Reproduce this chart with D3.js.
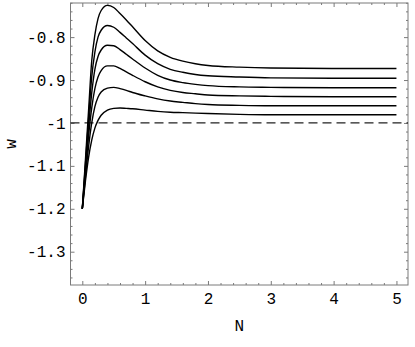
<!DOCTYPE html>
<html>
<head>
<meta charset="utf-8">
<script src="https://cdn.jsdelivr.net/npm/d3@7"></script>
<style>
  html, body { margin: 0; padding: 0; background: #fff; }
  svg { display: block; }
  text { font-family: "Liberation Mono", "DejaVu Sans Mono", monospace; fill: #000; }
</style>
</head>
<body>
<svg id="chart" width="415" height="347"></svg>
<script>
// ---- data ----
const nValues = [0, 0.05, 0.1, 0.15, 0.2, 0.25, 0.3, 0.4, 0.5, 0.6, 0.7, 0.8, 1.0, 1.2, 1.4, 1.6, 1.8, 2.0, 2.5, 3, 4, 5];
const curve1 = [-1.2, -1.085, -0.97, -0.855, -0.795, -0.757, -0.738, -0.726, -0.731, -0.745, -0.760, -0.776, -0.808, -0.832, -0.847, -0.856, -0.862, -0.866, -0.870, -0.872, -0.873, -0.873];
const curve2 = [-1.2, -1.095, -0.99, -0.893, -0.835, -0.800, -0.784, -0.773, -0.777, -0.789, -0.802, -0.815, -0.842, -0.862, -0.875, -0.882, -0.887, -0.890, -0.893, -0.895, -0.896, -0.896];
const curve3 = [-1.2, -1.105, -1.01, -0.93, -0.875, -0.845, -0.830, -0.819, -0.820, -0.829, -0.840, -0.851, -0.872, -0.889, -0.900, -0.906, -0.910, -0.913, -0.916, -0.917, -0.918, -0.918];
const curve4 = [-1.2, -1.115, -1.03, -0.965, -0.92, -0.893, -0.878, -0.867, -0.867, -0.873, -0.881, -0.889, -0.904, -0.916, -0.924, -0.929, -0.932, -0.935, -0.937, -0.938, -0.939, -0.939];
const curve5 = [-1.2, -1.125, -1.055, -1.0, -0.962, -0.940, -0.928, -0.919, -0.917, -0.920, -0.924, -0.929, -0.937, -0.944, -0.949, -0.952, -0.955, -0.957, -0.959, -0.960, -0.960, -0.960];
const curve6 = [-1.2, -1.135, -1.08, -1.04, -1.012, -0.994, -0.982, -0.970, -0.966, -0.965, -0.966, -0.967, -0.970, -0.973, -0.975, -0.976, -0.977, -0.978, -0.980, -0.981, -0.981, -0.981];
const allCurves = [curve1, curve2, curve3, curve4, curve5, curve6];
const referenceW = -1;

const xTicks = [0, 1, 2, 3, 4, 5];
const xTickLabels = ["0", "1", "2", "3", "4", "5"];
const yTicks = [-1.3, -1.2, -1.1, -1, -0.9, -0.8];
const yTickLabels = ["-1.3", "-1.2", "-1.1", "-1", "-0.9", "-0.8"];
const xLabel = "N";
const yLabel = "w";

// ---- layout ----
const svg = d3.select("#chart");
const mLeft = 70.5, mRight = 408, mTop = 3, mBottom = 285;
const x = d3.scaleLinear().domain([-0.188, 5.184]).range([mLeft, mRight]);
const y = d3.scaleLinear().domain([-1.3776, -0.7205]).range([mBottom, mTop]);

const xMinor = d3.range(0, 5.2, 0.2).map(v => +v.toFixed(2)).filter(v => !xTicks.includes(v));
const yMinor = d3.range(-1.36, -0.72, 0.02).map(v => +v.toFixed(2)).filter(v => !yTicks.some(t => Math.abs(t - v) < 1e-6));

const frameColor = "#7a7a7a";

function styleAxis(g) {
  g.select(".domain").remove();
  g.selectAll(".tick line").attr("stroke", frameColor).attr("stroke-width", 1);
  g.selectAll("text").style("font-size", "16px").attr("fill", "#000");
}

// minor ticks (no labels), all four sides
svg.append("g").attr("transform", `translate(0,${mBottom})`)
  .call(d3.axisBottom(x).tickValues(xMinor).tickSize(-2).tickFormat(""))
  .call(styleAxis);
svg.append("g").attr("transform", `translate(0,${mTop})`)
  .call(d3.axisTop(x).tickValues(xMinor).tickSize(-2).tickFormat(""))
  .call(styleAxis);
svg.append("g").attr("transform", `translate(${mLeft},0)`)
  .call(d3.axisLeft(y).tickValues(yMinor).tickSize(-2).tickFormat(""))
  .call(styleAxis);
svg.append("g").attr("transform", `translate(${mRight},0)`)
  .call(d3.axisRight(y).tickValues(yMinor).tickSize(-2).tickFormat(""))
  .call(styleAxis);

// major ticks
svg.append("g").attr("transform", `translate(0,${mBottom})`)
  .call(d3.axisBottom(x).tickValues(xTicks).tickSize(-4).tickPadding(8)
    .tickFormat((d, i) => xTickLabels[i]))
  .call(styleAxis);
svg.append("g").attr("transform", `translate(0,${mTop})`)
  .call(d3.axisTop(x).tickValues(xTicks).tickSize(-4).tickFormat(""))
  .call(styleAxis);
svg.append("g").attr("transform", `translate(${mLeft},0)`)
  .call(d3.axisLeft(y).tickValues(yTicks).tickSize(-4).tickPadding(5)
    .tickFormat((d, i) => yTickLabels[i]))
  .call(styleAxis);
svg.append("g").attr("transform", `translate(${mRight},0)`)
  .call(d3.axisRight(y).tickValues(yTicks).tickSize(-4).tickFormat(""))
  .call(styleAxis);

// frame
svg.append("rect")
  .attr("x", mLeft).attr("y", mTop)
  .attr("width", mRight - mLeft).attr("height", mBottom - mTop)
  .attr("fill", "none").attr("stroke", frameColor).attr("stroke-width", 1);

// dashed reference line
svg.append("line")
  .attr("x1", mLeft).attr("x2", mRight)
  .attr("y1", y(referenceW)).attr("y2", y(referenceW))
  .attr("stroke", "#222").attr("stroke-width", 1.3)
  .attr("stroke-dasharray", "9,5");

// curves
const line = d3.line()
  .x((d, i) => x(nValues[i]))
  .y(d => y(d))
  .curve(d3.curveMonotoneX);

svg.append("g").selectAll("path")
  .data(allCurves)
  .join("path")
  .attr("d", d => line(d))
  .attr("fill", "none")
  .attr("stroke", "#000")
  .attr("stroke-width", 1.4);

// axis labels
svg.append("text")
  .attr("x", (mLeft + mRight) / 2).attr("y", 331)
  .attr("text-anchor", "middle")
  .style("font-size", "16px")
  .text(xLabel);

svg.append("text")
  .attr("transform", `translate(16,${(mTop + mBottom) / 2}) rotate(-90)`)
  .attr("text-anchor", "middle")
  .style("font-size", "16px")
  .text(yLabel);
</script>
</body>
</html>
